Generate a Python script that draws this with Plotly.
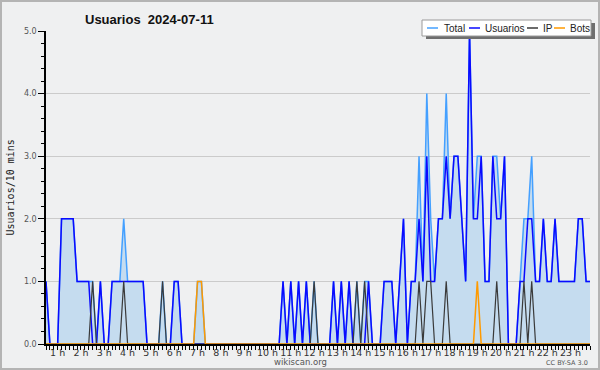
import plotly.graph_objects as go

# 10-minute slots, slot 0 = 00:30, slot 140 = 23:50
slots = list(range(141))

usuarios = [1,0,0,0,2,2,2,2,1,1,
            1,1,0,0,1,0,0,1,1,1,
            1,1,1,1,1,1,0,0,0,0,
            0,0,0,1,1,0,0,0,0,0,
            0,0,0,0,0,0,0,0,0,0,
            0,0,0,0,0,0,0,0,0,0,
            0,1,0,1,0,1,0,1,0,0,
            0,0,0,0,1,0,1,0,1,0,
            0,0,0,1,0,0,0,1,1,1,
            0,1,2,0,1,1,2,1,3,1,
            1,2,2,3,2,3,3,2,1,5,
            2,2,3,1,1,3,2,2,3,0,
            0,0,1,1,2,2,1,1,2,1,
            1,2,1,1,1,1,1,2,2,1,
            1]

ip = [0,0,0,0,0,0,0,0,0,0,
      0,0,1,0,0,0,0,0,0,0,
      1,0,0,0,0,0,0,0,0,0,
      1,0,0,0,0,0,0,0,0,0,
      0,0,0,0,0,0,0,0,0,0,
      0,0,0,0,0,0,0,0,0,0,
      0,0,0,0,0,0,0,0,0,1,
      0,0,0,0,0,0,0,0,0,0,
      1,0,1,0,0,0,0,0,0,0,
      0,0,0,0,0,0,1,0,1,1,
      0,0,0,1,0,0,0,0,0,0,
      0,0,0,0,0,0,1,0,0,0,
      0,0,0,1,0,1,0,0,0,0,
      0,0,0,0,0,0,0,0,0,0,
      0]

bots = [0,0,0,0,0,0,0,0,0,0,
        0,0,0,0,0,0,0,0,0,0,
        0,0,0,0,0,0,0,0,0,0,
        0,0,0,0,0,0,0,0,0,1,
        1,0,0,0,0,0,0,0,0,0,
        0,0,0,0,0,0,0,0,0,0,
        0,0,0,0,0,0,0,0,0,0,
        0,0,0,0,0,0,0,0,0,0,
        0,0,0,0,0,0,0,0,0,0,
        0,0,0,0,0,0,0,0,0,0,
        0,0,0,0,0,0,0,0,0,0,
        0,1,0,0,0,0,0,0,0,0,
        0,0,0,0,0,0,0,0,0,0,
        0,0,0,0,0,0,0,0,0,0,
        0]

total = [1,0,0,0,2,2,2,2,1,1,
         1,1,1,0,1,0,0,1,1,1,
         2,1,1,1,1,1,0,0,0,0,
         1,0,0,1,1,0,0,0,0,1,
         1,0,0,0,0,0,0,0,0,0,
         0,0,0,0,0,0,0,0,0,0,
         0,1,0,1,0,1,0,1,0,1,
         0,0,0,0,1,0,1,0,1,0,
         1,0,1,1,0,0,0,1,1,1,
         0,1,2,0,1,1,3,1,4,2,
         1,2,2,4,2,3,3,2,1,5,
         2,3,3,1,1,3,3,2,3,0,
         0,0,1,2,2,3,1,1,2,1,
         1,2,1,1,1,1,1,2,2,1,
         1]

hour_slots = [3, 9, 15, 21, 27, 33, 39, 45, 51, 57, 63, 69, 75, 81, 87, 93,
              99, 105, 111, 117, 123, 129, 135]
hour_labels = ["1 h", "2 h", "3 h", "4 h", "5 h", "6 h", "7 h", "8 h", "9 h",
               "10 h", "11 h", "12 h", "13 h", "14 h", "15 h", "16 h", "17 h",
               "18 h", "19 h", "20 h", "21 h", "22 h", "23 h"]

title_text = "Usuarios&nbsp;&nbsp;2024-07-11"
y_title = "Usuarios/10 mins"
series_names = ["Total", "Usuarios", "IP", "Bots"]
series_colors = ["#44a0ff", "#0a0aff", "#3a3a3a", "#ff9a00"]

W, H = 600, 370
L, R, T, B = 46, 10, 31, 26
PW, PH = W - L - R, H - T - B
BG = "#eff0f1"
FONT = "DejaVu Sans, sans-serif"
LEGFONT = "Liberation Sans, Arial, sans-serif"

def px(x):
    return (x - L) / PW

def py(y):
    return (H - B - y) / PH

fig = go.Figure()
fig.add_trace(go.Scatter(x=slots, y=total, mode="lines", name=series_names[0],
                         line=dict(color=series_colors[0], width=1.5),
                         fill="tozeroy", fillcolor="#c5dcef"))
fig.add_trace(go.Scatter(x=slots, y=usuarios, mode="lines", name=series_names[1],
                         line=dict(color=series_colors[1], width=1.5)))
fig.add_trace(go.Scatter(x=slots, y=ip, mode="lines", name=series_names[2],
                         line=dict(color=series_colors[2], width=1.2)))
fig.add_trace(go.Scatter(x=slots, y=bots, mode="lines", name=series_names[3],
                         line=dict(color=series_colors[3], width=1.5)))

shapes = []
annotations = []

# outer frame
shapes.append(dict(type="rect", xref="paper", yref="paper",
                   x0=px(1), x1=px(599), y0=py(369), y1=py(1),
                   line=dict(color="#b4b4b4", width=2), fillcolor="rgba(0,0,0,0)", layer="below"))

# legend (manual, compact like the reference)
lx0, lx1, ly0, ly1 = 422, 591, 20, 36
shapes.append(dict(type="rect", xref="paper", yref="paper",
                   x0=px(lx0 + 4), x1=px(lx1 + 4), y0=py(ly1 + 3), y1=py(ly0 + 3),
                   line=dict(width=0), fillcolor="#6e6e6e", layer="above"))
shapes.append(dict(type="rect", xref="paper", yref="paper",
                   x0=px(lx0), x1=px(lx1), y0=py(ly1), y1=py(ly0),
                   line=dict(color="#9a9a9a", width=1), fillcolor="#ffffff", layer="above"))
legend_items = [(427, 442), (469, 483), (527, 541), (554, 568)]
for (sx, tx), name, col in zip(legend_items, series_names, series_colors):
    shapes.append(dict(type="line", xref="paper", yref="paper",
                       x0=px(sx), x1=px(sx + 11), y0=py(28), y1=py(28),
                       line=dict(color=col, width=1.5), layer="above"))
    annotations.append(dict(text=name, xref="paper", yref="paper", x=px(tx), y=py(28.5),
                            xanchor="left", yanchor="middle", showarrow=False,
                            font=dict(family=LEGFONT, size=10, color="#222222")))

annotations.append(dict(text=y_title, xref="paper", yref="paper", x=px(10), y=0.5,
                        textangle=-90, showarrow=False, xanchor="center", yanchor="middle",
                        font=dict(family="DejaVu Sans Mono, monospace", size=10, color="#222222")))
annotations.append(dict(text="wikiscan.org", xref="paper", yref="paper", x=px(300), y=py(362),
                        showarrow=False, xanchor="center", yanchor="middle",
                        font=dict(family=FONT, size=8.5, color="#555555")))
annotations.append(dict(text="CC BY-SA 3.0", xref="paper", yref="paper", x=px(590), y=py(363),
                        showarrow=False, xanchor="right", yanchor="middle",
                        font=dict(family=FONT, size=6.5, color="#555555")))

fig.update_layout(
    width=W, height=H,
    margin=dict(l=L, r=R, t=T, b=B, pad=0),
    paper_bgcolor=BG, plot_bgcolor=BG,
    showlegend=False,
    title=dict(text="<b>" + title_text + "</b>", x=85 / W, xanchor="left", xref="container",
               y=1 - 19 / H, yanchor="middle", yref="container",
               font=dict(family=LEGFONT, size=13, color="#111111")),
    shapes=shapes, annotations=annotations,
)

fig.update_xaxes(range=[0, 140], tickmode="array", tickvals=hour_slots, ticktext=hour_labels,
                 ticks="", showgrid=False, zeroline=False, ticklabelstandoff=-1,
                 showline=True, linecolor="#000000", linewidth=1.5,
                 tickfont=dict(family=FONT, size=9.5, color="#333333"),
                 minor=dict(tickmode="linear", tick0=0, dtick=1, ticks="outside",
                            ticklen=4, tickcolor="#000000", tickwidth=1, showgrid=False))

fig.update_yaxes(range=[0, 5], tickmode="linear", tick0=0, dtick=1, tickformat=".1f",
                 ticks="outside", ticklen=6, tickcolor="#000000", tickwidth=1,
                 showgrid=True, gridcolor="#cbcbcb", gridwidth=1, zeroline=False,
                 showline=True, linecolor="#000000", linewidth=1.5,
                 tickfont=dict(family=FONT, size=8, color="#555555"),
                 minor=dict(tickmode="linear", tick0=0, dtick=0.2, ticks="outside",
                            ticklen=3, tickcolor="#000000", tickwidth=1, showgrid=False))

fig.write_html("out.html")
